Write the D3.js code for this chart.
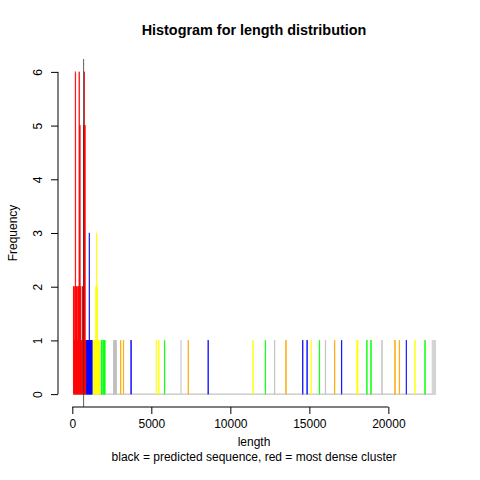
<!DOCTYPE html>
<html lang="en">
<head>
  <meta charset="UTF-8">
  <title>Histogram for length distribution</title>
  <script src="https://cdn.jsdelivr.net/npm/d3@7"></script>
  <style>
    body { margin: 0; background: #fff; }
    text { font-family: "Liberation Sans", Arial, Helvetica, sans-serif; }
  </style>
</head>
<body>
  <div id="grafica"></div>

  <script>
    // bins are [start, count], all the same width
    binWidth = 40
    redBins = [[60,2],[100,2],[140,1],[180,6],[220,2],[260,2],[300,1],[340,2],[380,2],[420,6],
               [460,5],[500,2],[540,1],[580,1],[620,2],[660,2],[700,5],[740,6],[780,5],[820,1]]
    blueBins = [[860,1],[900,1],[940,1],[980,1],[1020,1],[1060,3],[1100,1],[1140,1],[1180,1],[1220,1],
                [3700,1],[8580,1],[14560,1],[14840,1],[17020,1],[21120,1]]
    yellowBins = [[1320,1],[1360,1],[1400,1],[1440,1],[1480,2],[1520,3],[1560,2],[1600,1],[1640,1],[1680,1],
                  [5300,1],[5460,1],[11420,1],[15100,1],[18000,1],[18040,1],[21660,1]]
    greenBins = [[1820,1],[1860,1],[1960,1],[2000,1],[2040,1],
                 [5820,1],[12200,1],[15620,1],[18620,1],[18880,1],[22300,1]]
    grayBins = [[2600,1],[2640,1],[2680,1],[2720,1],[2760,1],[12780,1],[16000,1],[19580,1]]
    lightGrayBins = [[6860,1],[22760,1],[22800,1],[22840,1],[22880,1],[22920,1],[22960,1]]
    orangeBins = [[3040,1],[3220,1],[7320,1],[13500,1],[16580,1],[20400,1],[20680,1]]

    predictedLength = 715
    xTicks = [0, 5000, 10000, 15000, 20000]
    yTicks = [0, 1, 2, 3, 4, 5, 6]

    series = [
      { bins: grayBins, color: '#bebebe' },
      { bins: lightGrayBins, color: '#d3d3d3' },
      { bins: orangeBins, color: '#ffa500' },
      { bins: greenBins, color: '#00ff00' },
      { bins: yellowBins, color: '#ffff00' },
      { bins: blueBins, color: '#0000ff' },
      { bins: redBins, color: '#ff0000' }
    ]

    ancho = 480
    alto = 480

    svg = d3.select('#grafica')
      .append('svg')
      .attr('width', ancho)
      .attr('height', alto)

    x = d3.scaleLinear()
      .domain([-905, 23900])
      .range([58, 450])
    y = d3.scaleLinear()
      .domain([-0.24, 6.24])
      .range([407, 59])

    // baseline left by the empty bins
    svg.append('line')
      .attr('x1', x(60)).attr('x2', x(23000))
      .attr('y1', y(0)).attr('y2', y(0))
      .attr('stroke', '#b4b4b4')
      .attr('stroke-width', 1)

    series.forEach(function(s) {
      svg.append('g').selectAll('rect')
        .data(s.bins)
        .enter()
        .append('rect')
        .attr('x', d => x(d[0]))
        .attr('width', d => x(d[0] + binWidth) - x(d[0]))
        .attr('y', d => y(d[1]))
        .attr('height', d => y(0) - y(d[1]))
        .attr('fill', s.color)
        .attr('stroke', s.color)
        .attr('stroke-width', 0.6)
    })

    // predicted sequence
    svg.append('line')
      .attr('x1', x(predictedLength)).attr('x2', x(predictedLength))
      .attr('y1', 59).attr('y2', 407)
      .attr('stroke', '#333')
      .attr('stroke-width', 0.8)

    // x axis
    xAxis = svg.append('g')
      .attr('transform', 'translate(0,407)')
      .call(d3.axisBottom(x).tickValues(xTicks).tickFormat(d3.format('d')).tickSize(7).tickPadding(5))
    xAxis.select('.domain').remove()
    xAxis.append('line')
      .attr('x1', x(0)).attr('x2', x(20000))
      .attr('stroke', '#000')
    xAxis.selectAll('text')
      .attr('fill', '#000')
      .style('font-size', '12px')
      .style('font-family', '"Liberation Sans", Arial, sans-serif')

    // y axis
    yAxis = svg.append('g')
      .attr('transform', 'translate(58,0)')
      .call(d3.axisLeft(y).tickValues(yTicks).tickFormat(d3.format('d')).tickSize(7))
    yAxis.select('.domain').remove()
    yAxis.append('line')
      .attr('y1', y(0)).attr('y2', y(6))
      .attr('stroke', '#000')
    yAxis.selectAll('text')
      .attr('x', 0)
      .attr('y', -16)
      .attr('dy', null)
      .attr('transform', 'rotate(-90)')
      .attr('text-anchor', 'middle')
      .attr('fill', '#000')
      .style('font-size', '12px')
      .style('font-family', '"Liberation Sans", Arial, sans-serif')

    // titles
    svg.append('text')
      .attr('x', 254).attr('y', 35)
      .attr('text-anchor', 'middle')
      .style('font-size', '14.4px')
      .style('font-weight', 'bold')
      .text('Histogram for length distribution')

    svg.append('text')
      .attr('x', 254).attr('y', 446)
      .attr('text-anchor', 'middle')
      .style('font-size', '12px')
      .text('length')

    svg.append('text')
      .attr('x', 254).attr('y', 461)
      .attr('text-anchor', 'middle')
      .style('font-size', '12px')
      .text('black = predicted sequence, red = most dense cluster')

    svg.append('text')
      .attr('transform', 'translate(17,233) rotate(-90)')
      .attr('text-anchor', 'middle')
      .style('font-size', '12px')
      .text('Frequency')
  </script>
</body>
</html>
